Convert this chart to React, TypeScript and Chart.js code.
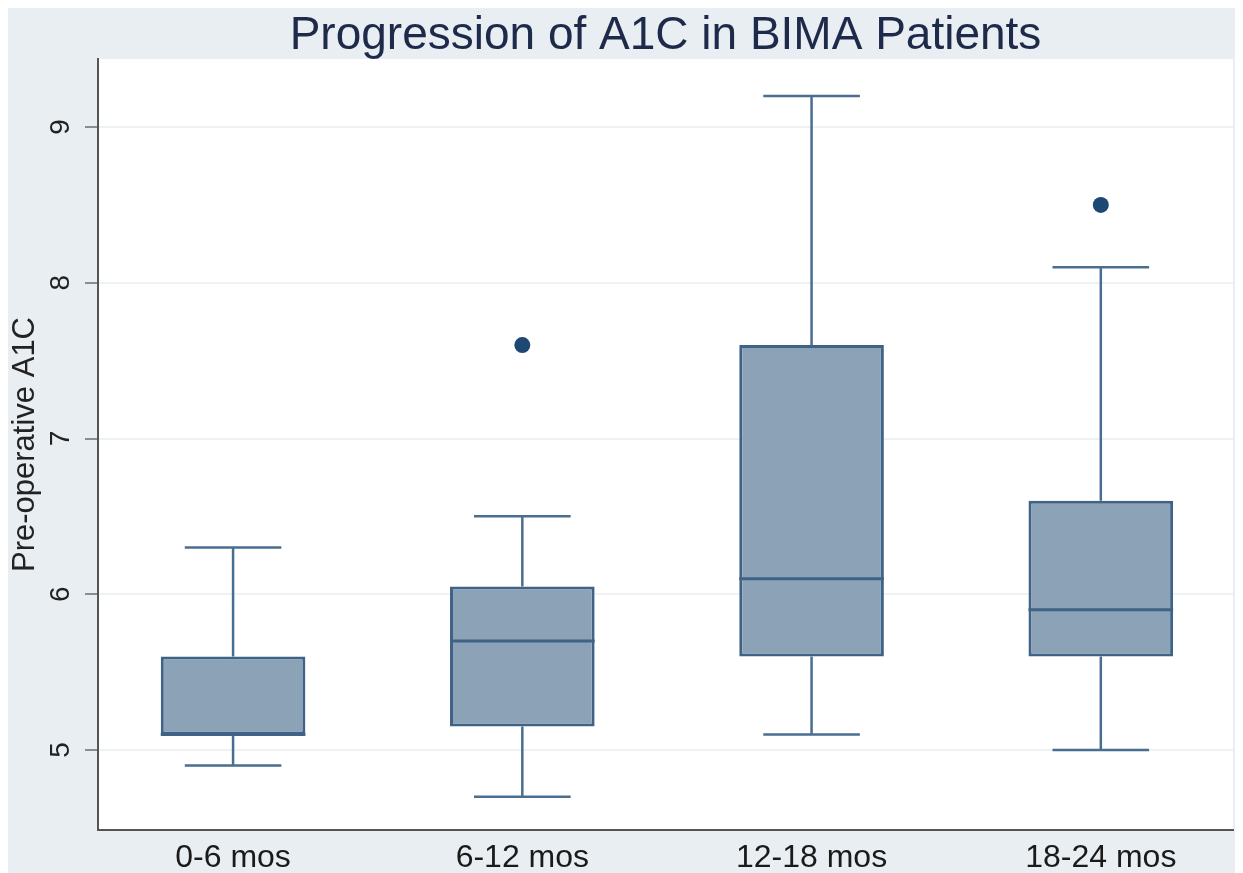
import React, { useEffect, useRef } from "react";
import { Chart, registerables } from "chart.js";

Chart.register(...registerables);

const categories = ["0-6 mos", "6-12 mos", "12-18 mos", "18-24 mos"];
const catPositions = [1, 2, 3, 4];
const whiskerLow = [4.9, 4.7, 5.1, 5.0];
const quartile1 = [5.1, 5.15, 5.6, 5.6];
const medians = [5.1, 5.7, 6.1, 5.9];
const quartile3 = [5.6, 6.05, 7.6, 6.6];
const whiskerHigh = [6.3, 6.5, 9.2, 8.1];
const outlierPositions = [2, 4];
const outlierValues = [7.6, 8.5];
const yTicks = [5, 6, 7, 8, 9];

const FONT = "'Liberation Sans', Arial, Helvetica, sans-serif";
const BOX_FILL = "#8ba2b7";
const BOX_LINE = "#3f6387";
const WHISKER = "#4a6e90";
const DOT = "#1d4873";
const CAP_HALF = 0.167;

const boxParts = {
  id: "boxParts",
  beforeDraw(chart: any) {
    const { ctx, chartArea: a } = chart;
    ctx.save();
    ctx.fillStyle = "#ffffff";
    ctx.fillRect(a.left, a.top, a.right - a.left, a.bottom - a.top);
    ctx.restore();
  },
  beforeDatasetsDraw(chart: any) {
    const { ctx } = chart;
    const xs = chart.scales.x;
    const ys = chart.scales.y;
    ctx.save();
    ctx.strokeStyle = WHISKER;
    ctx.lineWidth = 2.5;
    catPositions.forEach((p, i) => {
      const cx = xs.getPixelForValue(p);
      const l = xs.getPixelForValue(p - CAP_HALF);
      const r = xs.getPixelForValue(p + CAP_HALF);
      const yMax = ys.getPixelForValue(whiskerHigh[i]);
      const yQ3 = ys.getPixelForValue(quartile3[i]);
      const yQ1 = ys.getPixelForValue(quartile1[i]);
      const yMin = ys.getPixelForValue(whiskerLow[i]);
      ctx.beginPath();
      ctx.moveTo(cx, yQ3);
      ctx.lineTo(cx, yMax);
      ctx.moveTo(l, yMax);
      ctx.lineTo(r, yMax);
      ctx.moveTo(cx, yQ1);
      ctx.lineTo(cx, yMin);
      ctx.moveTo(l, yMin);
      ctx.lineTo(r, yMin);
      ctx.stroke();
    });
    ctx.restore();
  },
  afterDatasetsDraw(chart: any) {
    const { ctx } = chart;
    const xs = chart.scales.x;
    const ys = chart.scales.y;
    const meta = chart.getDatasetMeta(0);
    ctx.save();
    ctx.strokeStyle = BOX_LINE;
    ctx.lineWidth = 3;
    meta.data.forEach((bar: any, i: number) => {
      const w = bar.width;
      const cx = xs.getPixelForValue(catPositions[i]);
      const y = ys.getPixelForValue(medians[i]);
      ctx.beginPath();
      ctx.moveTo(cx - w / 2, y);
      ctx.lineTo(cx + w / 2, y);
      ctx.stroke();
    });
    ctx.restore();
  },
  afterDraw(chart: any) {
    const { ctx, chartArea: a } = chart;
    const xs = chart.scales.x;
    const ys = chart.scales.y;
    ctx.save();
    ctx.textAlign = "center";
    ctx.textBaseline = "middle";
    ctx.fillStyle = "#1a1a1a";
    ctx.font = `32px ${FONT}`;
    catPositions.forEach((p, i) => {
      ctx.fillText(categories[i], xs.getPixelForValue(p), a.bottom + 28);
    });
    ctx.fillStyle = "#222222";
    ctx.font = `28px ${FONT}`;
    ys.ticks.forEach((t: any) => {
      const y = ys.getPixelForValue(t.value);
      ctx.save();
      ctx.translate(53, y);
      ctx.rotate(-Math.PI / 2);
      ctx.fillText(String(t.value), 0, 0);
      ctx.restore();
    });
    ctx.font = `31px ${FONT}`;
    ctx.translate(17, (a.top + a.bottom) / 2);
    ctx.rotate(-Math.PI / 2);
    ctx.fillText("Pre-operative A1C", 0, 0);
    ctx.restore();
  },
};

export default function App() {
  const ref = useRef<HTMLCanvasElement>(null);
  useEffect(() => {
    const chart = new Chart(ref.current as HTMLCanvasElement, {
      type: "bar",
      data: {
        datasets: [
          {
            type: "bar",
            data: catPositions.map((p, i) => ({ x: p, y: [quartile1[i], quartile3[i]] })) as any,
            backgroundColor: BOX_FILL,
            borderColor: BOX_LINE,
            borderWidth: 3,
            borderSkipped: false,
            barPercentage: 0.5,
            categoryPercentage: 1.0,
          },
          {
            type: "scatter",
            data: outlierPositions.map((p, i) => ({ x: p, y: outlierValues[i] })),
            backgroundColor: DOT,
            borderWidth: 0,
            pointRadius: 8,
          } as any,
        ],
      },
      plugins: [boxParts],
      options: {
        animation: false,
        responsive: false,
        layout: { autoPadding: false, padding: { left: 0, right: 2, top: 0, bottom: 0 } },
        plugins: {
          legend: { display: false },
          tooltip: { enabled: false },
          title: {
            display: true,
            text: "Progression of A1C in BIMA Patients",
            fullSize: false,
            color: "#1e2a4a",
            font: { family: FONT, size: 46, weight: "normal", lineHeight: 1 },
            padding: { top: 5, bottom: 0 },
          },
        },
        scales: {
          x: {
            type: "linear",
            offset: false,
            min: 0.533,
            max: 4.457,
            afterBuildTicks: (s: any) => {
              s.ticks = catPositions.map((v) => ({ value: v }));
            },
            afterFit: (s: any) => {
              s.height = 43;
              s.paddingLeft = 0;
              s.paddingRight = 0;
            },
            grid: { display: true, color: "rgba(0,0,0,0)", drawTicks: false, offset: false },
            border: { display: true, color: "#555555", width: 2 },
            ticks: { display: false },
          },
          y: {
            type: "linear",
            min: 4.486,
            max: 9.437,
            afterBuildTicks: (s: any) => {
              s.ticks = yTicks.map((v) => ({ value: v }));
            },
            afterFit: (s: any) => {
              s.width = 90;
            },
            grid: {
              color: "#edf2f5",
              lineWidth: 2,
              drawTicks: true,
              tickLength: 13,
              tickColor: "#8c8c8c",
              tickWidth: 2,
            },
            border: { display: true, color: "#555555", width: 2 },
            ticks: { display: false },
          },
        },
      },
    });
    return () => chart.destroy();
  }, []);
  return (
    <div style={{ width: 1227, height: 865, background: "#e8eef2" }}>
      <canvas ref={ref} width={1227} height={865} style={{ display: "block" }} />
    </div>
  );
}
